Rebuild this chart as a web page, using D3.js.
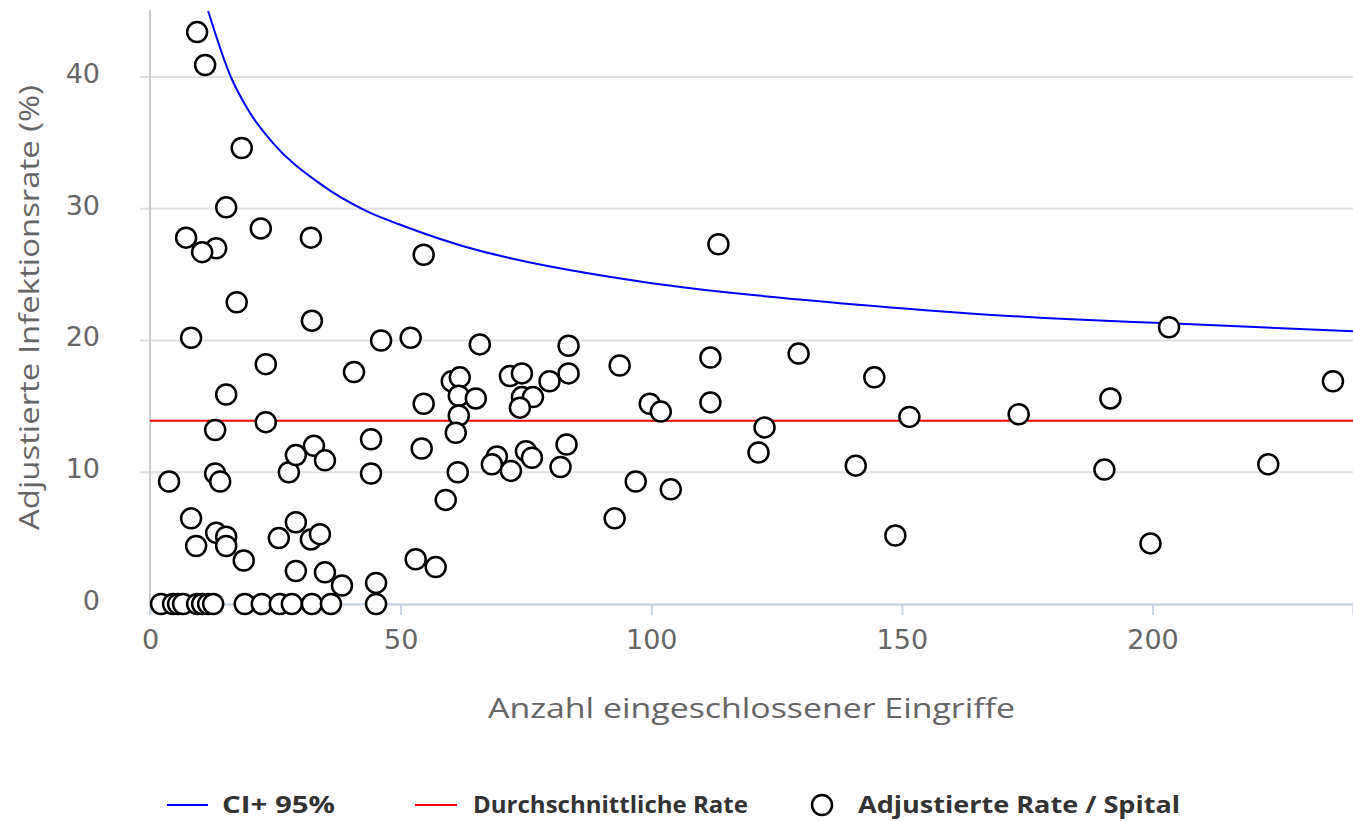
<!DOCTYPE html>
<html>
<head>
<meta charset="utf-8">
<script src="https://cdn.jsdelivr.net/npm/d3@7"></script>
<style>
  body { margin: 0; background: #fff; }
  svg text { font-family: "Open Sans", "Noto Sans", sans-serif; }
  svg .tick text { font-family: "DejaVu Sans", sans-serif; }
</style>
</head>
<body>
<div id="chart"></div>
<script>
// Anzahl Eingriffe / adjustierte Rate per Spital
const hospN = [
  9.4, 11.0, 18.3, 15.2, 22.1, 7.2, 13.2, 10.4, 32.1, 54.6, 113.4, 17.3,
  8.2, 32.3, 23.1, 15.2, 13.0, 23.1, 3.8, 13.0, 14.0, 8.2, 9.2, 13.2,
  15.2, 15.2, 18.7, 25.7, 29.1, 32.1, 33.9, 29.1, 34.9, 38.3, 45.1, 27.7,
  29.1, 32.7, 34.9, 44.1, 44.1, 40.7, 46.1, 52.0, 53.0, 57.0, 54.2, 54.6,
  59.0, 60.2, 61.8, 61.6, 65.0, 61.6, 61.0, 61.4, 65.8, 69.2, 68.2, 72.0,
  75.0, 76.2, 83.1, 81.9, 71.8, 74.2, 79.7, 83.5, 83.5, 74.2, 76.4, 73.8,
  93.7, 92.7, 96.9, 103.9, 99.7, 101.9, 111.8, 111.8, 122.6, 121.4, 129.4, 144.5,
  151.5, 173.3, 191.6, 203.3, 236.0, 140.8, 190.4, 223.1, 148.7, 199.6,
  2.2, 4.6, 5.6, 6.6, 9.4, 10.4, 11.6, 12.6, 18.9, 22.3, 25.9, 28.3, 32.3, 36.1, 45.1
];
const hospRate = [
  43.4, 40.9, 34.6, 30.1, 28.5, 27.8, 27.0, 26.7, 27.8, 26.5, 27.3, 22.9,
  20.2, 21.5, 18.2, 15.9, 13.2, 13.8, 9.3, 9.9, 9.3, 6.5, 4.4, 5.4,
  5.1, 4.4, 3.3, 5.0, 6.2, 4.9, 5.3, 2.5, 2.4, 1.4, 1.6, 10.0,
  11.3, 12.0, 10.9, 12.5, 9.9, 17.6, 20.0, 20.2, 3.4, 2.8, 11.8, 15.2,
  7.9, 16.9, 17.2, 15.8, 15.6, 14.3, 13.0, 10.0, 19.7, 11.2, 10.6, 10.1,
  11.6, 11.1, 12.1, 10.4, 17.3, 17.5, 16.9, 17.5, 19.6, 15.7, 15.7, 14.9,
  18.1, 6.5, 9.3, 8.7, 15.2, 14.6, 18.7, 15.3, 13.4, 11.5, 19.0, 17.2,
  14.2, 14.4, 15.6, 21.0, 16.9, 10.5, 10.2, 10.6, 5.2, 4.6,
  0, 0, 0, 0, 0, 0, 0, 0, 0, 0, 0, 0, 0, 0, 0
];

// durchschnittliche Rate
const avgRate = 13.9;

// obere 95%-Grenze
const ciN    = [11.6, 15.9, 19.9, 24.5, 33.9, 43.3, 49.8, 65.8, 72.4, 99.1, 129.6, 154.7, 183.8, 203.3, 240];
const ciRate = [45.0, 40.2, 37.3, 35.0, 31.9, 29.8, 28.8, 26.8, 26.2, 24.4, 23.1, 22.3, 21.6, 21.3, 20.7];

const xTicks = [0, 50, 100, 150, 200];
const yTicks = [0, 10, 20, 30, 40];

const width = 1353, height = 822;
const plotLeft = 150, plotRight = 1353, plotTop = 11, plotBottom = 604;

const svg = d3.select("#chart").append("svg")
  .attr("width", width)
  .attr("height", height);

const x = d3.scaleLinear().domain([0, 240]).range([plotLeft, plotRight]);
const y = d3.scaleLinear().domain([0, 45]).range([plotBottom, plotTop]);

svg.append("defs").append("clipPath").attr("id", "plot")
  .append("rect")
  .attr("x", plotLeft).attr("y", plotTop)
  .attr("width", plotRight - plotLeft).attr("height", plotBottom - plotTop);

// grid lines
svg.append("g")
  .selectAll("line")
  .data(yTicks.filter(d => d > 0))
  .join("line")
  .attr("x1", plotLeft - 10).attr("x2", plotRight)
  .attr("y1", d => y(d)).attr("y2", d => y(d))
  .attr("stroke", "#e0e0e0")
  .attr("stroke-width", 2);

// y axis
const yAxis = svg.append("g")
  .attr("transform", "translate(" + plotLeft + ",0)")
  .call(d3.axisLeft(y).tickValues(yTicks).tickSize(0).tickPadding(50));
yAxis.select(".domain").remove();
yAxis.selectAll("text")
  .attr("fill", "#666")
  .style("font-size", "27px")
  .attr("dy", "0.2em");
svg.append("line")
  .attr("x1", plotLeft).attr("x2", plotLeft)
  .attr("y1", plotTop - 1).attr("y2", plotBottom)
  .attr("stroke", "#ccc").attr("stroke-width", 2);

// x axis
const xAxis = svg.append("g")
  .attr("transform", "translate(0," + plotBottom + ")")
  .call(d3.axisBottom(x).tickValues(xTicks).tickSizeOuter(0).tickSize(11).tickPadding(15));
xAxis.select(".domain")
  .attr("stroke", "#ccd6eb").attr("stroke-width", 2.5);
xAxis.selectAll(".tick line")
  .attr("stroke", "#ccd6eb").attr("stroke-width", 2);
xAxis.selectAll("text")
  .attr("fill", "#666")
  .style("font-size", "27px");

// axis titles
svg.append("text")
  .attr("x", 488).attr("y", 718)
  .attr("textLength", 527)
  .attr("lengthAdjust", "spacingAndGlyphs")
  .attr("fill", "#666")
  .style("font-size", "28px")
  .text("Anzahl eingeschlossener Eingriffe");

svg.append("text")
  .attr("transform", "translate(39,530) rotate(-90)")
  .attr("textLength", 445)
  .attr("lengthAdjust", "spacingAndGlyphs")
  .attr("fill", "#666")
  .style("font-size", "28px")
  .text("Adjustierte Infektionsrate (%)");

const plot = svg.append("g").attr("clip-path", "url(#plot)");

// average
plot.append("line")
  .attr("x1", plotLeft).attr("x2", plotRight)
  .attr("y1", y(avgRate)).attr("y2", y(avgRate))
  .attr("stroke", "red").attr("stroke-width", 2);

// CI+ 95%
const ciLine = d3.line()
  .x(d => x(d[0]))
  .y(d => y(d[1]))
  .curve(d3.curveMonotoneX);
plot.append("path")
  .datum(ciN.map((n, i) => [n, ciRate[i]]))
  .attr("d", ciLine)
  .attr("fill", "none")
  .attr("stroke", "blue")
  .attr("stroke-width", 2);

// hospitals
svg.append("g")
  .selectAll("circle")
  .data(hospN.map((n, i) => [n, hospRate[i]]))
  .join("circle")
  .attr("cx", d => x(d[0]))
  .attr("cy", d => y(d[1]))
  .attr("r", 10)
  .attr("fill", "#fff")
  .attr("stroke", "#000")
  .attr("stroke-width", 2.5);

// legend
const legend = svg.append("g").style("font-size", "24px").style("font-weight", "bold");
legend.append("line").attr("x1", 167).attr("x2", 208).attr("y1", 805).attr("y2", 805)
  .attr("stroke", "blue").attr("stroke-width", 2);
legend.append("text").attr("x", 222).attr("y", 813).attr("fill", "#333")
  .attr("textLength", 113).attr("lengthAdjust", "spacingAndGlyphs")
  .text("CI+ 95%");
legend.append("line").attr("x1", 415).attr("x2", 457).attr("y1", 805).attr("y2", 805)
  .attr("stroke", "red").attr("stroke-width", 2);
legend.append("text").attr("x", 473).attr("y", 813).attr("fill", "#333")
  .attr("textLength", 275).attr("lengthAdjust", "spacingAndGlyphs")
  .text("Durchschnittliche Rate");
legend.append("circle").attr("cx", 822).attr("cy", 805).attr("r", 10)
  .attr("fill", "#fff").attr("stroke", "#000").attr("stroke-width", 2.5);
legend.append("text").attr("x", 858).attr("y", 813).attr("fill", "#333")
  .attr("textLength", 322).attr("lengthAdjust", "spacingAndGlyphs")
  .text("Adjustierte Rate / Spital");
</script>
</body>
</html>
